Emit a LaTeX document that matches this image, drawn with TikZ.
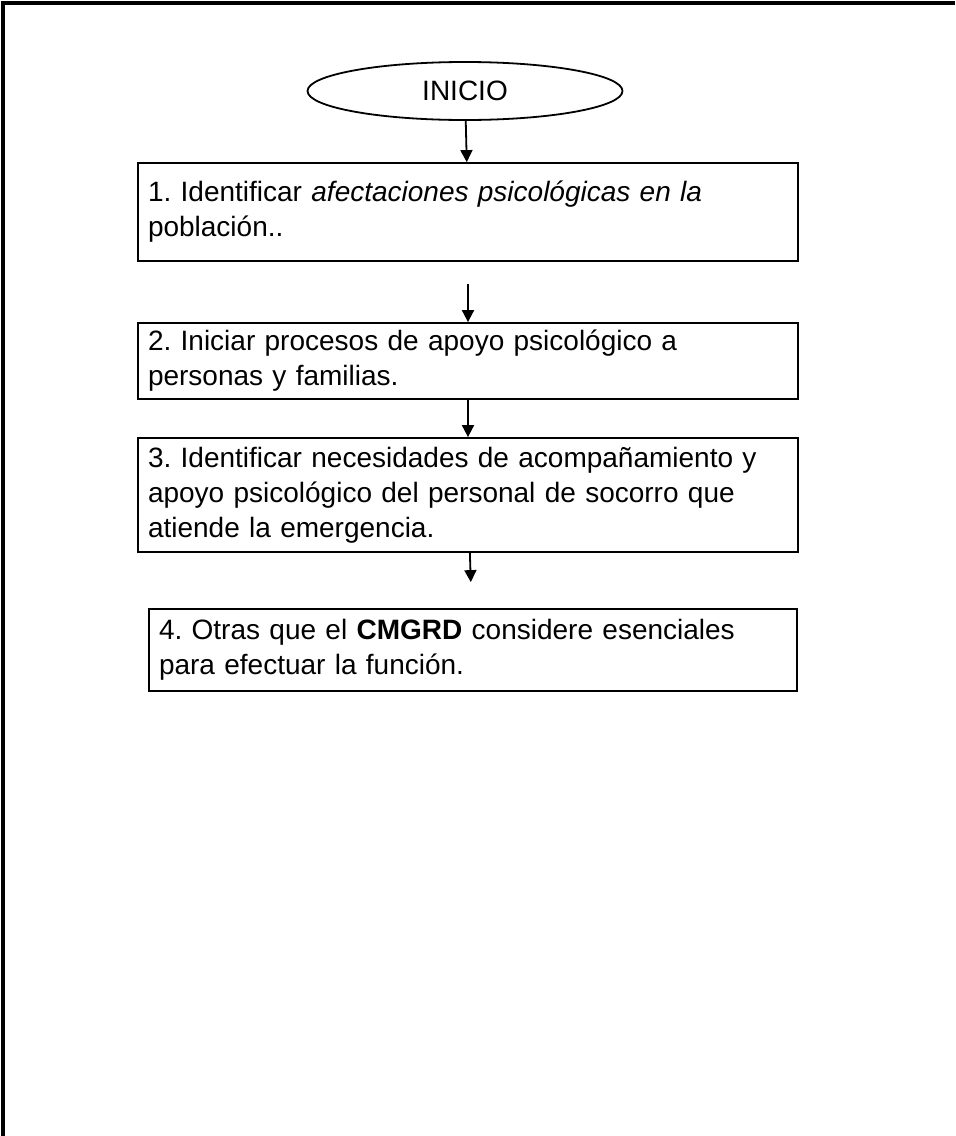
\documentclass[tikz,border=0pt]{standalone}
\usepackage{fontspec}
\setmainfont{Liberation Sans}
\usetikzlibrary{arrows.meta,shapes.geometric}
\frenchspacing
\tikzset{
  paso/.style={draw, line width=0.9pt, rectangle, align=left, inner xsep=5pt,
    font=\fontsize{14pt}{17.5pt}\selectfont},
  inicio/.style={draw, line width=0.9pt, ellipse, minimum width=157.5pt,
    minimum height=29pt, inner sep=0pt, font=\fontsize{14pt}{17.5pt}\selectfont},
}
\begin{document}
\begin{tikzpicture}[x=0.5pt,y=-0.5pt]
      \useasboundingbox (0,0) rectangle (955,1136);
      % marco
      \draw[line width=1.6pt] (3,1136) -- (3,3) -- (955,3);
      \node[inicio] (ini) at (465,91) {INICIO};
      \node[paso, text width=320pt, minimum height=49pt] (p1) at (468,212)
        {1. Identificar \textit{afectaciones psicológicas en la}\\población..};
      \node[paso, text width=320pt, minimum height=38pt] (p2) at (468,361)
        {2. Iniciar procesos de apoyo psicológico a\\personas y familias.};
      \node[paso, text width=320pt, minimum height=57pt] (p3) at (468,495)
        {3. Identificar necesidades de acompañamiento y\\apoyo psicológico del personal de socorro que\\atiende la emergencia.};
      \node[paso, text width=314pt, minimum height=41pt] (p4) at (473,650)
        {4. Otras que el \textbf{CMGRD} considere esenciales\\para efectuar la función.};
      \begin{scope}[-{Triangle[length=6pt,width=6pt]}, line width=0.9pt]
        \draw (ini) to (p1);
        \draw[shorten <=11pt] (p1) to (p2);
        \draw (p2) to (p3);
        \draw[shorten >=13pt] (p3) to (p4);
      \end{scope}
    \end{tikzpicture}
\end{document}
